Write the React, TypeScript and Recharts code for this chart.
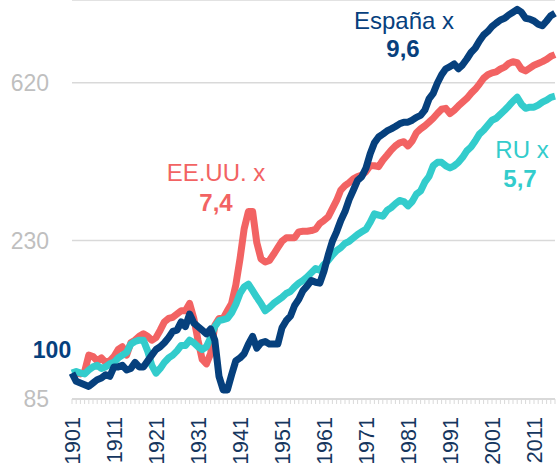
import React from "react";
import { LineChart, Line, XAxis, YAxis, CartesianGrid } from "recharts";

const FIRST_YEAR = 1901;
const LAST_YEAR = 2016;
const years = Array.from({ length: LAST_YEAR - FIRST_YEAR + 1 }, (_, i) => FIRST_YEAR + i);
const yearLabels = [1901, 1911, 1921, 1931, 1941, 1951, 1961, 1971, 1981, 1991, 2001, 2011];
const yTicks = [85, 230, 620];

// índice 1901 = 100
const eeuu = [
  100, 100, 99.5, 101, 112, 111, 108, 110, 107, 108,
  111, 116, 118, 112, 121, 123, 126, 128, 126, 123,
  125, 131, 138, 141, 142, 145, 148, 148, 155, 141,
  123, 109, 106, 113, 135, 141, 141, 148, 155, 174,
  205, 248, 276, 276, 227, 205, 201, 203, 211, 220,
  229, 234, 234, 234, 243, 244, 244, 245, 247, 256,
  261, 267, 281, 296, 316, 325, 331, 339, 344, 347,
  355, 368, 368, 366, 381, 393, 406, 417, 425, 428,
  417, 430, 453, 464, 473, 484, 496, 511, 525, 528,
  511, 522, 536, 549, 562, 580, 595, 615, 638, 652,
  660, 664, 676, 684, 700, 708, 704, 676, 668, 680,
  692, 700, 708, 718, 732, 740,
];

const espana = [
  100, 95, 94, 93, 92, 94, 96, 97, 99, 98,
  104, 104, 105, 102, 103, 107, 104, 104, 108, 112,
  116, 118, 121, 125, 130, 131, 138, 134, 145, 137,
  134, 131, 128, 132, 123, 98, 90, 90, 99, 108,
  110, 113, 120, 126, 117, 121, 122, 120, 120, 120,
  133, 139, 143, 153, 159, 168, 173, 179, 177, 176,
  190, 210, 229, 243, 261, 276, 298, 316, 336, 344,
  363, 397, 425, 441, 449, 458, 464, 471, 479, 484,
  484, 490, 499, 505, 522, 560, 580, 619, 652, 677,
  686, 698, 677, 694, 720, 750, 771, 806, 837, 856,
  883, 902, 920, 930, 950, 966, 983, 966, 930, 925,
  914, 896, 887, 914, 945, 960,
];

const ru = [
  100, 101, 100, 99.5, 102, 104, 105, 103, 104, 106,
  107, 110, 112, 114, 120, 122, 123, 123, 115, 105,
  100, 103, 107, 110, 112, 115, 119, 119, 123, 121,
  118, 116, 118, 125, 134, 139, 140, 141, 146, 154,
  165, 172, 175, 168, 161, 155, 148, 151, 155, 158,
  161, 165, 167, 172, 176, 179, 183, 188, 193, 191,
  198, 203, 210, 216, 220, 226, 229, 234, 239, 243,
  247, 258, 272, 270, 268, 278, 283, 290, 296, 294,
  286, 294, 308, 314, 332, 344, 368, 376, 376, 368,
  363, 368, 376, 388, 404, 414, 430, 449, 460, 475,
  490, 496, 509, 522, 536, 552, 566, 542, 528, 532,
  532, 539, 549, 556, 566, 570,
];

const data = years.map((year, i) => ({
  year,
  eeuu: eeuu[i],
  espana: espana[i],
  ru: ru[i],
}));

const RED = "#f26363";
const BLUE = "#06407d";
const TEAL = "#33cccc";
const NAVY = "#15365e";
const GRID = "#d9d9d9";
const FONT = "'Liberation Sans', Arial, sans-serif";

const YearTick = (props: any) => {
  const { x, payload } = props;
  if (!yearLabels.includes(payload.value)) return null;
  const ty = 417;
  return (
    <text
      x={x}
      y={ty}
      dy="0.36em"
      transform={`rotate(-90, ${x}, ${ty})`}
      textAnchor="end"
      fill={NAVY}
      fontSize={21.5}
      fontFamily={FONT}
    >
      {payload.value}
    </text>
  );
};

const ValueTick = (props: any) => {
  const { y, payload } = props;
  return (
    <text x={49} y={y} dy="0.35em" textAnchor="end" fill="#bfbfbf" fontSize={23} fontFamily={FONT}>
      {payload.value}
    </text>
  );
};

export default function App() {
  return (
    <div style={{ position: "fixed", left: 0, top: 0, width: 557, height: 465, background: "#fff" }}>
      <LineChart
        width={557}
        height={465}
        data={data}
        margin={{ top: 0, right: 2, bottom: 0, left: 0 }}
      >
        <CartesianGrid vertical={false} stroke={GRID} strokeWidth={1.5} />
        <XAxis
          dataKey="year"
          type="number"
          domain={[FIRST_YEAR, LAST_YEAR]}
          ticks={years}
          interval={0}
          height={66}
          axisLine={{ stroke: GRID, strokeWidth: 2 }}
          tickLine={{ stroke: GRID }}
          tickSize={5}
          tick={<YearTick />}
        />
        <YAxis
          type="number"
          scale="log"
          domain={[85, 1043]}
          allowDataOverflow
          ticks={yTicks}
          width={72}
          axisLine={false}
          tickLine={false}
          tick={<ValueTick />}
        />
        <Line dataKey="eeuu" stroke={RED} strokeWidth={7} dot={false} isAnimationActive={false} strokeLinejoin="round" />
        <Line dataKey="ru" stroke={TEAL} strokeWidth={7} dot={false} isAnimationActive={false} strokeLinejoin="round" />
        <Line dataKey="espana" stroke={BLUE} strokeWidth={7} dot={false} isAnimationActive={false} strokeLinejoin="round" />
      </LineChart>
      <svg
        width={557}
        height={465}
        style={{ position: "absolute", left: 0, top: 0, pointerEvents: "none" }}
        fontFamily={FONT}
        textAnchor="middle"
      >
        <text x={216} y={181} fill={RED} fontSize={24}>EE.UU. x</text>
        <text x={216} y={211} fill={RED} fontSize={24} fontWeight="bold">7,4</text>
        <text x={404} y={29} fill={BLUE} fontSize={24}>España x</text>
        <text x={403} y={57} fill={BLUE} fontSize={24} fontWeight="bold">9,6</text>
        <text x={522} y={158} fill={TEAL} fontSize={24}>RU x</text>
        <text x={520} y={187} fill={TEAL} fontSize={24} fontWeight="bold">5,7</text>
        <text x={52} y={358} fill={BLUE} fontSize={23} fontWeight="bold">100</text>
      </svg>
    </div>
  );
}
